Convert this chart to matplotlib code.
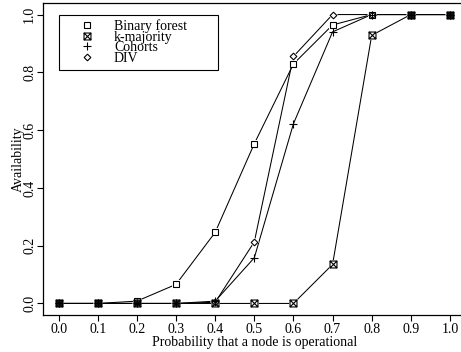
import numpy as np
import matplotlib
matplotlib.use("Agg")
import matplotlib.pyplot as plt
from matplotlib.path import Path
from matplotlib.lines import Line2D
from matplotlib.patches import Rectangle

plt.rcParams['font.family'] = ['Liberation Serif', 'DejaVu Serif']

# ---- data ----
p = [0.0, 0.1, 0.2, 0.3, 0.4, 0.5, 0.6, 0.7, 0.8, 0.9, 1.0]
binary_forest = [0.0, 0.0, 0.008, 0.066, 0.246, 0.553, 0.829, 0.964, 1.0, 1.0, 1.0]
k_majority    = [0.0, 0.0, 0.0, 0.0, 0.0, 0.0, 0.0, 0.135, 0.928, 1.0, 1.0]
cohorts       = [0.0, 0.0, 0.0, 0.0, 0.008, 0.158, 0.622, 0.94, 1.0, 1.0, 1.0]
div           = [0.0, 0.0, 0.0, 0.0, 0.004, 0.213, 0.855, 1.0, 1.0, 1.0, 1.0]
labels = ["Binary forest", "k-majority", "Cohorts", "DIV"]
xticks = [0.0, 0.1, 0.2, 0.3, 0.4, 0.5, 0.6, 0.7, 0.8, 0.9, 1.0]
yticks = [0.0, 0.2, 0.4, 0.6, 0.8, 1.0]

W, H = 461, 352

# square with an X inside
sqx = Path([(-1, -1), (1, -1), (1, 1), (-1, 1), (-1, -1),
            (-1, -1), (1, 1), (-1, 1), (1, -1)],
           [Path.MOVETO, Path.LINETO, Path.LINETO, Path.LINETO, Path.CLOSEPOLY,
            Path.MOVETO, Path.LINETO, Path.MOVETO, Path.LINETO])

styles = [('s', 5.0), (sqx, 5.0), ('+', 5.5), ('D', 3.4)]
series = [binary_forest, k_majority, cohorts, div]

fig = plt.figure(figsize=(W / 100, H / 100), dpi=100)
ax = fig.add_axes([43 / W, 37 / H, (465.6 - 43) / W, (315 - 3) / H])

lw = 0.75
for ys in series:
    ax.plot(p, ys, color='black', lw=lw, zorder=2)
for ys, (m, ms) in zip(series, styles):
    if m != '+':
        ax.plot(p, ys, ls='none', marker=m, ms=ms + 1.2, mfc='white', mec='white',
                mew=0, zorder=3)
for ys, (m, ms) in zip(series, styles):
    ax.plot(p, ys, ls='none', marker=m, ms=ms, mfc='none', mec='black',
            mew=0.8, zorder=4)

ax.set_xlim(-0.04, 1.04)
ax.set_ylim(-0.04, 1.04)
ax.set_xticks(xticks)
ax.set_xticklabels([f"{v:.1f}" for v in xticks])
ax.set_yticks(yticks)
ax.set_yticklabels([f"{v:.1f}" for v in yticks], rotation=90, va='center')
ax.tick_params(direction='out', length=4, width=0.8, labelsize=10)
ax.tick_params(axis='x', pad=2)
ax.tick_params(axis='y', pad=1)
for s in ax.spines.values():
    s.set_linewidth(0.9)
ax.set_xlabel("Probability that a node is operational", fontsize=10, labelpad=0)
ax.set_ylabel("Availability", fontsize=10, labelpad=-1)

# ---- legend (R style, drawn by hand) ----
fx = lambda px: px / W
fy = lambda py: 1 - py / H
fig.patches.append(Rectangle((fx(59), fy(70)), fx(218) - fx(59), (70 - 15) / H,
                             transform=fig.transFigure, fill=False,
                             edgecolor='black', lw=0.8, zorder=10))
rows = [25.0, 35.5, 46.0, 56.5]
for (m, ms), lab, ry in zip(styles, labels, rows):
    fig.lines.append(Line2D([fx(87)], [fy(ry)], transform=fig.transFigure,
                            ls='none', marker=m, ms=ms, mfc='none', mec='black',
                            mew=0.8, zorder=11))
    fig.text(fx(114), fy(ry), lab, fontsize=10, va='center_baseline', ha='left',
             zorder=11)

fig.savefig("out.png", dpi=100)
